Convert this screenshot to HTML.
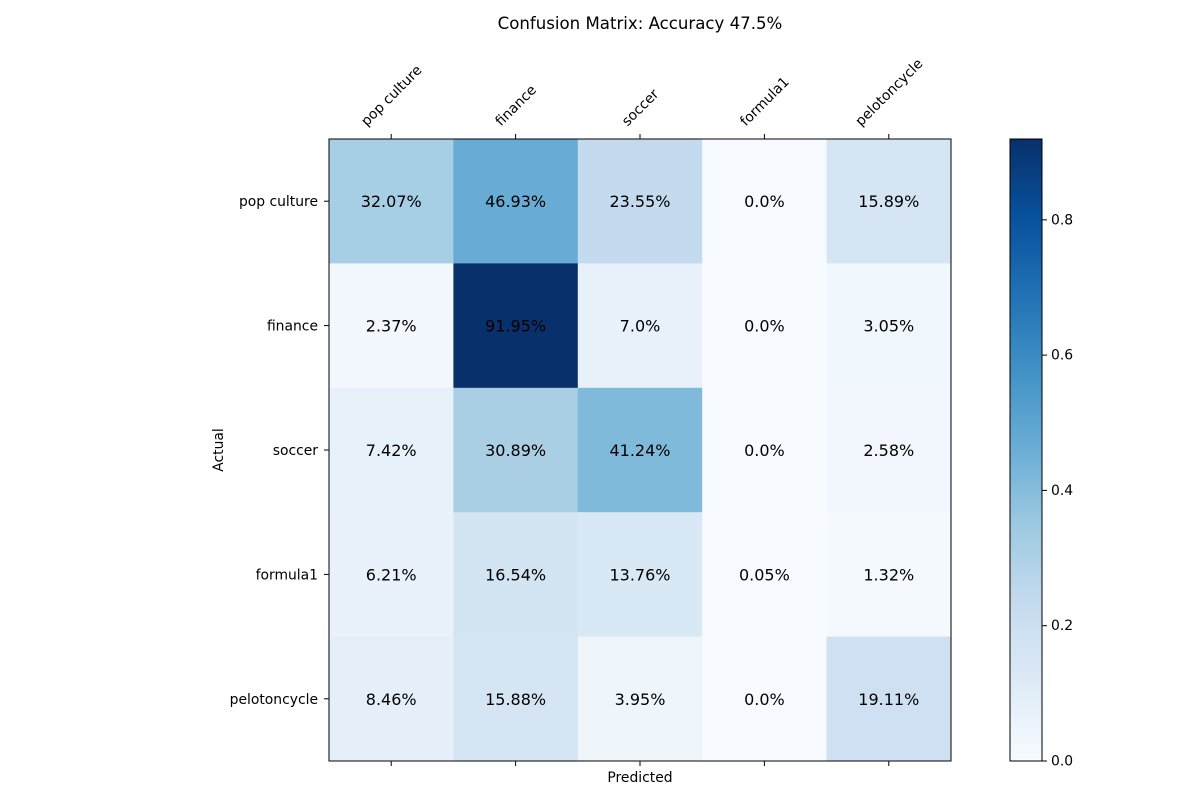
<!DOCTYPE html>
<html><head><meta charset="utf-8"><style>
body{margin:0;background:#fff;}
svg text{font-family:"DejaVu Sans","Liberation Sans",sans-serif;}
</style></head><body>
<svg id="chart" width="1200" height="800" xmlns="http://www.w3.org/2000/svg"></svg>
<script>
const categories=["pop culture","finance","soccer","formula1","pelotoncycle"];
const rowPopCulture=[32.07,46.93,23.55,0.0,15.89];
const rowFinance=[2.37,91.95,7.0,0.0,3.05];
const rowSoccer=[7.42,30.89,41.24,0.0,2.58];
const rowFormula1=[6.21,16.54,13.76,0.05,1.32];
const rowPeloton=[8.46,15.88,3.95,0.0,19.11];
const colorbarTicks=[0,0.2,0.4,0.6,0.8];
const accuracy=47.5;
const rows=[rowPopCulture,rowFinance,rowSoccer,rowFormula1,rowPeloton];

const NS="http://www.w3.org/2000/svg";
const svg=document.getElementById('chart');
function mk(tag,attrs,parent){const e=document.createElementNS(NS,tag);for(const k in attrs)e.setAttribute(k,attrs[k]);(parent||svg).appendChild(e);return e;}
function fmt(v){const s=String(v);return s.includes('.')?s:s+'.0';}
const X0=329,X1=951,Y0=139,Y1=761;
const n=categories.length;
const cw=(X1-X0)/n,ch=(Y1-Y0)/n;
const xC=i=>X0+cw*(i+0.5), yC=i=>Y0+ch*(i+0.5);
let vmax=0;rows.forEach(r=>r.forEach(v=>{if(v/100>vmax)vmax=v/100;}));
const stops=[[247,251,255],[222,235,247],[198,219,239],[158,202,225],[107,174,214],[66,146,198],[33,113,181],[8,81,156],[8,48,107]];
function blues(t){t=Math.max(0,Math.min(1,t));const p=t*8,i=Math.min(7,Math.floor(p)),f=p-i;const a=stops[i],b=stops[i+1];return`rgb(${a.map((c,k)=>Math.round(c+(b[k]-c)*f)).join(',')})`;}

const title=mk('text',{x:640,y:29,'text-anchor':'middle','font-size':16.6});
title.textContent=`Confusion Matrix: Accuracy ${accuracy}%`;



rows.forEach((r,i)=>r.forEach((v,j)=>{
  const c=mk('rect',{x:X0+cw*j,y:Y0+ch*i,width:cw+0.5,height:ch+0.5,fill:blues(v/100/vmax)});
  
  
  const t=mk('text',{x:xC(j),y:yC(i)+6,'text-anchor':'middle','font-size':16});
  t.textContent=fmt(v)+'%';
  
  
}));
const frame=mk('rect',{x:X0,y:Y0,width:X1-X0,height:Y1-Y0,fill:'none',stroke:'#000','stroke-width':1});



categories.forEach((c,i)=>{
  mk('line',{x1:xC(i),x2:xC(i),y1:Y0,y2:Y0-5,stroke:'#000'});
  mk('line',{x1:xC(i),x2:xC(i),y1:Y1,y2:Y1+5,stroke:'#000'});
  mk('line',{x1:X0,x2:X0-5,y1:yC(i),y2:yC(i),stroke:'#000'});
  const t=mk('text',{x:0,y:0,'font-size':13.9,'text-anchor':'middle',dy:'0.35em'});
  t.textContent=c;
  const w=t.getComputedTextLength(),h=16;
  const H=(w+h)*0.7071;
  t.setAttribute('transform',`translate(${xC(i)} ${129-H/2}) rotate(-45)`);
  
  
  const y=mk('text',{x:X0-11,y:yC(i)+5,'text-anchor':'end','font-size':13.9});
  y.textContent=c;
  
  
});
const xl=mk('text',{x:640,y:782,'text-anchor':'middle','font-size':13.9});xl.textContent='Predicted';


const yl=mk('text',{x:223,y:450,'text-anchor':'middle','font-size':13.9,transform:'rotate(-90 223 450)'});yl.textContent='Actual';



const CX=1010,CW=32;
const defs=mk('defs',{});
const g=mk('linearGradient',{id:'cb',x1:0,y1:1,x2:0,y2:0},defs);
for(let k=0;k<=8;k++)mk('stop',{offset:k/8,'stop-color':`rgb(${stops[k].join(',')})`},g);
const cb=mk('rect',{x:CX,y:Y0,width:CW,height:Y1-Y0,fill:'url(#cb)',stroke:'#000'});


const cy=v=>Y1-(v/vmax)*(Y1-Y0);
colorbarTicks.forEach(v=>{
  mk('line',{x1:CX+CW,x2:CX+CW+5,y1:cy(v),y2:cy(v),stroke:'#000'});
  const t=mk('text',{x:CX+CW+9,y:cy(v)+4.5,'font-size':13.9});
  t.textContent=v.toFixed(1);
  
  
});
</script>
</body></html>
